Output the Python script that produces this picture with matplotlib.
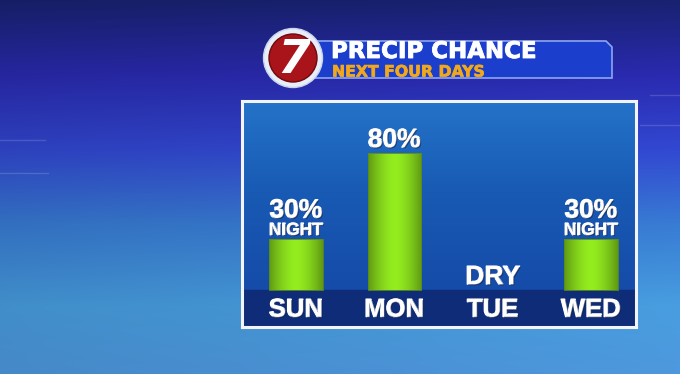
import numpy as np
import matplotlib
matplotlib.use('Agg')
import matplotlib.pyplot as plt
from matplotlib.patches import Circle, Polygon
import matplotlib.patheffects as pe

days = ['SUN', 'MON', 'TUE', 'WED']
chance = [30, 80, 0, 30]
top_labels = ['30%', '80%', 'DRY', '30%']
sub_labels = ['NIGHT', '', '', 'NIGHT']
title = 'PRECIP CHANCE'
subtitle = 'NEXT FOUR DAYS'

W, H = 680, 374
fig = plt.figure(figsize=(W / 100, H / 100), dpi=100)

# background: full-figure axes in pixel units
bg = fig.add_axes([0, 0, 1, 1])
bg.set_xlim(0, W)
bg.set_ylim(H, 0)
bg.axis('off')


def vgrad(stops, n):
    pos = np.array([s[0] for s in stops])
    cols = np.array([s[1] for s in stops], dtype=float) / 255
    t = np.linspace(0, 1, n)
    return np.stack([np.interp(t, pos, cols[:, k]) for k in range(3)], axis=1)


col = vgrad([(0, (24, 34, 112)), (0.2, (42, 42, 176)), (0.4, (50, 72, 210)),
             (0.6, (56, 124, 212)), (0.82, (72, 158, 224)), (1, (78, 152, 222))], H)
xs = np.linspace(0, 1, W)
shade = 1 - 0.10 * (1 - xs)
img = col[:, None, :] * shade[None, :, None]
bg.imshow(np.clip(img, 0, 1), extent=[0, W, H, 0], aspect='auto', zorder=0)

# a few faint decorative lines
for y0, x0, x1 in [(140, 0, 45), (173, 0, 48), (95, 650, 680), (125, 640, 680)]:
    bg.plot([x0, x1], [y0, y0], color='white', alpha=0.15, lw=1, zorder=1)

# title banner
banner = Polygon([(300, 41), (606, 41), (612, 47), (612, 78), (300, 78)],
                 closed=True, facecolor='#1c3ecc', edgecolor='#8ea6f0', lw=1.2, zorder=2)
bg.add_patch(banner)
bold_w = [pe.Stroke(linewidth=0.6, foreground='white'), pe.Normal()]
bg.text(331, 58, title, color='white', fontsize=16.5, fontweight='bold',
        family='DejaVu Sans', va='baseline', ha='left', zorder=4, path_effects=bold_w)
bg.text(332, 76.5, subtitle, color='#f2a81c', fontsize=11.3, fontweight='bold',
        family='DejaVu Sans', va='baseline', ha='left', zorder=4,
        path_effects=[pe.Stroke(linewidth=0.5, foreground='#f2a81c'), pe.Normal()])

# logo
bg.add_patch(Circle((293, 58), 29.5, facecolor='#e8eef8', edgecolor='#c8d4ec', lw=1, zorder=5))
bg.add_patch(Circle((293, 58), 24, facecolor='#a8141a', edgecolor='#6e0a0e', lw=1, zorder=6))
bg.text(294, 60, '7', color='white', fontsize=34, fontweight='bold', style='italic',
        family='DejaVu Sans', ha='center', va='center', zorder=7)

# chart panel
x = np.arange(len(days))
px_per = (290 - 153) / 80
ylo = -(327 - 290) / px_per
yhi = (290 - 101) / px_per
sp = (591 - 296) / 3
xlo = -(296 - 242) / sp
xhi = 3 + (636 - 591) / sp

ax = fig.add_axes([242 / W, (H - 327) / H, (636 - 242) / W, (327 - 101) / H])
ax.set_xlim(xlo, xhi)
ax.set_ylim(ylo, yhi)
pcol = vgrad([(0, (20, 70, 165)), (0.6, (24, 90, 180)), (1, (36, 115, 200))], 100)
ax.imshow(pcol[:, None, :][::-1], extent=[xlo, xhi, ylo, yhi], aspect='auto', zorder=0)
ax.axhspan(ylo, 0, color='#0e2c78', zorder=1)
for s in ax.spines.values():
    s.set_color('#f2f4fa')
    s.set_linewidth(2.2)
ax.set_xticks([])
ax.set_yticks([])

bars = ax.bar(x, chance, width=0.54, color='none', edgecolor='none', zorder=3)
gx = np.linspace(-1, 1, 64)
g = 1 - 0.35 * np.abs(gx) ** 1.6
bar_img = np.stack([0.58 * g, 0.93 * g, 0.12 * g], axis=1)[None, :, :]
for b in bars:
    if b.get_height() <= 0:
        continue
    b.set_edgecolor('#5c8a18')
    b.set_linewidth(0.6)
    bx, by = b.get_x(), b.get_y()
    im = ax.imshow(bar_img, extent=[bx, bx + b.get_width(), by, by + b.get_height()],
                   aspect='auto', zorder=2)
    im.set_clip_path(b)

shadow = [pe.Stroke(linewidth=0.8, foreground='white'),
          pe.withSimplePatchShadow(offset=(0.8, -0.8), shadow_rgbFace='#0a1a40', alpha=0.6)]
for i, v in enumerate(chance):
    if sub_labels[i]:
        ax.text(x[i], v + 4.8, sub_labels[i], color='white', fontsize=12.5, fontweight='bold',
                family='Liberation Sans', ha='center', va='center', zorder=5, path_effects=shadow)
        ax.text(x[i], v + 16.3, top_labels[i], color='white', fontsize=19, fontweight='bold',
                family='Liberation Sans', ha='center', va='center', zorder=5, path_effects=shadow)
    else:
        ax.text(x[i], v + 7.5, top_labels[i], color='white', fontsize=19, fontweight='bold',
                family='Liberation Sans', ha='center', va='center', zorder=5, path_effects=shadow)
    ax.text(x[i], ylo / 2 - 0.7, days[i], color='white', fontsize=18.5, fontweight='bold',
            family='Liberation Sans', ha='center', va='center', zorder=5, path_effects=shadow)

fig.savefig('out.png', dpi=100)
